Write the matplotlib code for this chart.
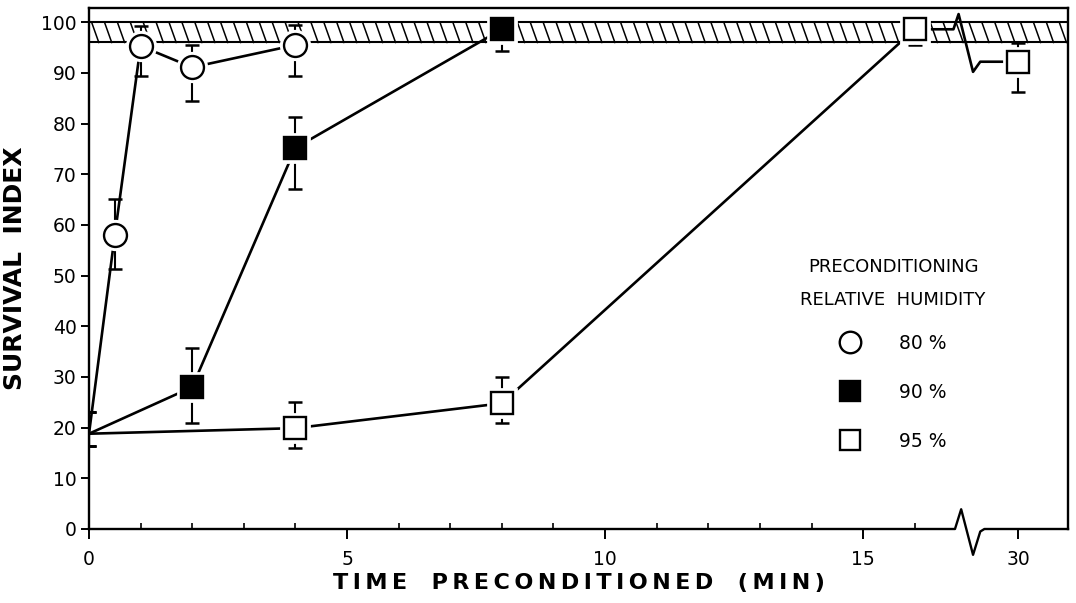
import numpy as np
import matplotlib
matplotlib.use("Agg")
import matplotlib.pyplot as plt
from matplotlib.lines import Line2D

# ---------------- data ----------------
t80 = [0, 0.5, 1, 2, 4]
s80 = [18.8, 58, 95.3, 91.1, 95.5]
lo80 = [16.4, 51.3, 89.3, 84.4, 89.3]
hi80 = [23.1, 65.1, 99.2, 95.5, 99.4]

t90 = [0, 2, 4, 8]
s90 = [18.8, 28, 75.2, 98.6]
lo90 = [16.4, 20.9, 67.1, 94.3]
hi90 = [23.1, 35.7, 81.3, 98.6]

t95 = [0, 4, 8, 16, 30]
s95 = [18.8, 19.9, 24.8, 98.6, 92.2]
lo95 = [16.4, 16.0, 20.9, 95.5, 86.2]
hi95 = [23.1, 25.0, 30.0, 98.6, 95.9]

labels = ["80 %", "90 %", "95 %"]
xtick_vals = [0, 5, 10, 15, 30]
xtick_labels = ["0", "5", "10", "15", "30"]
ytick_vals = list(range(0, 101, 10))
band_lo, band_hi = 96, 100

# ---------------- layout helpers ----------------
BREAK = 17.0
XMAX = 18.97
YMAX = 102.8


def xpos(t):
    t = np.asarray(t, dtype=float)
    return np.where(t > BREAK, t - 12.0, t)


def spaced(s, sep="\u2009"):
    words = s.split(" ")
    return (sep + "  " + sep).join(sep.join(w) for w in words)


plt.rcParams['font.family'] = ['DejaVu Sans']
fig = plt.figure(figsize=(10.76, 6.03), dpi=100)
ax = fig.add_axes([89 / 1076, 1 - 529 / 603, (1068 - 89) / 1076, (529 - 8) / 603])
ax.set_xlim(0, XMAX)
ax.set_ylim(0, YMAX)

LW = 1.9
# hatched band
ax.axhline(band_hi, color="black", lw=1.5, zorder=1)
ax.axhline(band_lo, color="black", lw=1.5, zorder=1)
for x0 in np.arange(-0.2, XMAX + 0.2, 0.25):
    ax.plot([x0, x0 + 0.14], [band_hi, band_lo], color="black", lw=1.1, zorder=1)

styles = [
    dict(marker="o", ms=16.5, mfc="white", mec="black"),
    dict(marker="s", ms=16, mfc="black", mec="black"),
    dict(marker="s", ms=16, mfc="white", mec="black"),
]
series = [(t80, s80, lo80, hi80), (t90, s90, lo90, hi90), (t95, s95, lo95, hi95)]

for (t, s, lo, hi), st in zip(series, styles):
    x = xpos(t)
    s = np.asarray(s)
    yerr = [s - np.asarray(lo), np.asarray(hi) - s]
    ax.errorbar(x, s, yerr=yerr, fmt="none", ecolor="black", elinewidth=1.5,
                capsize=5, capthick=1.8, zorder=2)
    if np.any(np.asarray(t) > BREAK):
        k = int(np.argmax(np.asarray(t) > BREAK))
        ax.plot(x[:k], s[:k], color="black", lw=LW, zorder=3)
        yl, yr = s[k - 1], s[k]
        bx = [x[k - 1], BREAK - 0.25, BREAK - 0.15, BREAK + 0.13, BREAK + 0.27, x[k]]
        by = [yl, yl, yl + 3, yr - 2, yr, yr]
        ax.plot(bx, by, color="black", lw=LW, zorder=3)
    else:
        ax.plot(x, s, color="black", lw=LW, zorder=3)
    # white halo + markers (no marker at t=0)
    ax.plot(x[1:], s[1:], ls="none", marker=st["marker"], ms=st["ms"] + 4,
            mfc="white", mec="white", mew=2, zorder=4)
    ax.plot(x[1:], s[1:], ls="none", marker=st["marker"], ms=st["ms"],
            mfc=st["mfc"], mec=st["mec"], mew=1.7, zorder=5)

# bottom axis with break
ax.spines["bottom"].set_visible(False)
ax.plot([0, BREAK - 0.22, BREAK - 0.1, BREAK + 0.13, BREAK + 0.27, BREAK + 0.35, XMAX],
        [0, 0, 3.9, -5.1, -0.5, 0, 0], color="black", lw=1.7, clip_on=False, zorder=6)
for sp in ["left", "top", "right"]:
    ax.spines[sp].set_linewidth(1.7)

# ticks
ax.set_yticks(ytick_vals)
ax.tick_params(axis="y", direction="out", length=6, width=1.4, labelsize=13.5, pad=3)
ax.set_xticks(xpos(xtick_vals))
ax.set_xticklabels(xtick_labels)
ax.set_xticks([i for i in range(1, 17) if i % 5 != 0], minor=True)
ax.tick_params(axis="x", which="major", direction="out", length=7, width=1.4,
               labelsize=13.5, pad=8)
ax.tick_params(axis="x", which="minor", direction="in", length=4, width=1.2)

ax.set_xlabel(spaced("TIME PRECONDITIONED (MIN)"), fontsize=16, fontweight="bold",
              labelpad=3)
ax.set_ylabel("SURVIVAL  INDEX", fontsize=18, fontweight="bold", labelpad=10)

# legend
ax.text(15.58, 51.7, "PRECONDITIONING", ha="center", va="center", fontsize=13)
ax.text(15.58, 45.2, "RELATIVE  HUMIDITY", ha="center", va="center", fontsize=13)
handles = [Line2D([], [], ls="none", marker=st["marker"], ms=st["ms"] - 1, mfc=st["mfc"],
                  mec=st["mec"], mew=1.7) for st in styles]
leg = ax.legend(handles, labels, loc="upper left", bbox_to_anchor=(0.758, 0.375),
                frameon=False, fontsize=13.5, borderpad=0, borderaxespad=0,
                handlelength=2, handletextpad=1.6, labelspacing=1.6)

fig.savefig("out.png", dpi=100)
